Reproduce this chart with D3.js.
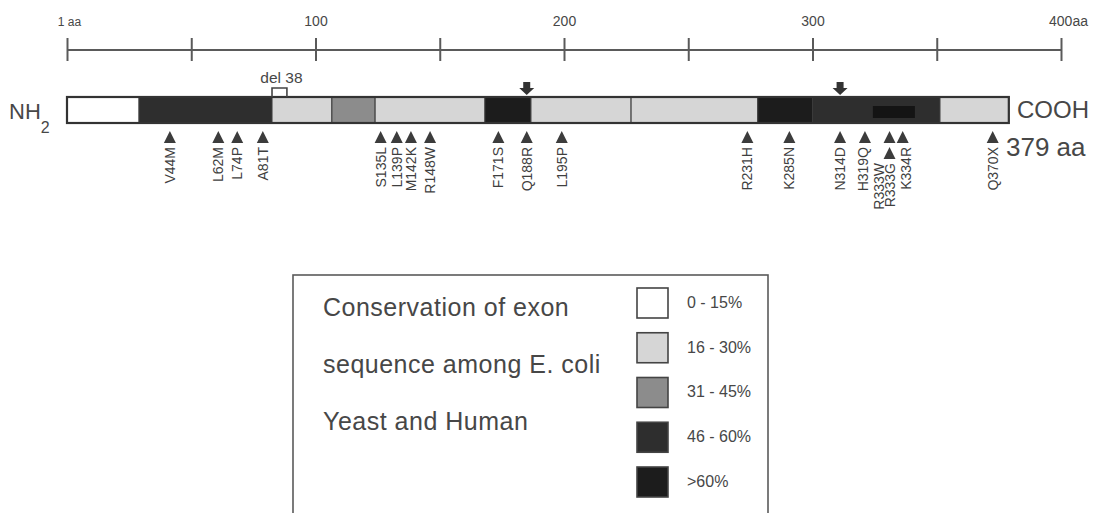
<!DOCTYPE html>
<html>
<head>
<meta charset="utf-8">
<script src="https://cdn.jsdelivr.net/npm/d3@7"></script>
<style>
  html, body { margin: 0; padding: 0; background: #fff; }
  svg { display: block; font-family: "Liberation Sans", Arial, Helvetica, sans-serif; }
</style>
</head>
<body>
<svg id="chart" width="1097" height="513"></svg>
<script>
// ---------------- data ----------------
const tickValues = [0, 50, 100, 150, 200, 250, 300, 350, 400];
const tickLabels = ["1 aa", "", "100", "", "200", "", "300", "", "400aa"];

// conservation segments along the protein (aa positions as drawn)
const segStart = [0, 29, 82.5, 106.6, 124, 168.2, 186.7, 227, 278, 300, 351.3];
const segEnd   = [29, 82.5, 106.6, 124, 168.2, 186.7, 227, 278, 300, 351.3, 379];
const segLevel = ["0 - 15%", "46 - 60%", "16 - 30%", "31 - 45%", "16 - 30%", ">60%",
                  "16 - 30%", "16 - 30%", ">60%", "46 - 60%", "16 - 30%"];
// inner highly conserved block inside the C-terminal region
const innerStart = [324.3];
const innerEnd   = [341.2];
const innerLevel = [">60%"];

const levels = ["0 - 15%", "16 - 30%", "31 - 45%", "46 - 60%", ">60%"];
const levelColors = ["#ffffff", "#d6d6d6", "#8c8c8c", "#2e2e2e", "#1c1c1c"];

// mutations: triangle position (aa as drawn), label position, rows
const mutNames = ["V44M", "L62M", "L74P", "A81T", "S135L", "L139P", "M142K", "R148W",
                  "F171S", "Q188R", "L195P", "R231H", "K285N", "N314D", "H319Q",
                  "R333W", "R333G", "K334R", "Q370X"];
const mutPos = [41.4, 60.9, 68.5, 78.8, 126.2, 132.7, 138.4, 146.1,
                173.6, 185.0, 199.1, 273.8, 290.7, 311.1, 321.1,
                331.0, 331.0, 336.3, 372.5];
const mutLabelPos = [41.4, 60.9, 68.5, 78.8, 126.2, 132.7, 138.4, 146.1,
                     173.6, 185.0, 199.1, 273.8, 290.7, 311.1, 320.5,
                     326.8, 331.0, 337.8, 372.5];
const mutRow      = [0,0,0,0,0,0,0,0,0,0,0,0,0,0,0,0,1,0,0];
const mutLabelRow = [0,0,0,0,0,0,0,0,0,0,0,0,0,0,0,1,1,0,0];

// arrows mark these mutations
const arrowMuts = ["Q188R", "N314D"];

// deleted region bracket
const delLabel = "del 38";
const delRange = [82.5, 88.5];

const legendTitle = ["Conservation of exon", "sequence among E. coli", "Yeast and Human"];

// ---------------- drawing ----------------
const svg = d3.select("#chart");
const textCol = "#474747";
const lineCol = "#5a5a5a";

const x = d3.scaleLinear().domain([0, 400]).range([67, 1061]);
const color = d3.scaleOrdinal().domain(levels).range(levelColors);

// top axis
const axisY = 50;
const axisG = svg.append("g").attr("transform", `translate(0,${axisY})`)
  .call(d3.axisTop(x).tickValues(tickValues).tickSize(12)
        .tickFormat((d, i) => tickLabels[i]));
axisG.select(".domain").remove();
axisG.append("line").attr("x1", x(0)).attr("x2", x(400))
  .attr("stroke", lineCol).attr("stroke-width", 2);
axisG.selectAll(".tick line").attr("y1", -12).attr("y2", 11)
  .attr("stroke", lineCol).attr("stroke-width", 2);
axisG.selectAll(".tick text")
  .attr("y", -24).attr("dy", 0)
  .attr("fill", textCol)
  .attr("font-family", "Liberation Sans, Arial, sans-serif")
  .attr("font-size", (d, i) => i === 0 ? 12 : 14)
  .attr("dx", (d, i) => i === tickValues.length - 1 ? 7 : (i === 0 ? 2 : 0));

// protein bar
const barTop = 97, barH = 26;
const segs = segStart.map((s, i) => ({ s, e: segEnd[i], lvl: segLevel[i] }));
svg.append("g").selectAll("rect").data(segs).join("rect")
  .attr("x", d => x(d.s)).attr("y", barTop)
  .attr("width", d => x(d.e) - x(d.s)).attr("height", barH)
  .attr("fill", d => color(d.lvl))
  .attr("stroke", "#3a3a3a").attr("stroke-width", 1);

const inner = innerStart.map((s, i) => ({ s, e: innerEnd[i], lvl: innerLevel[i] }));
svg.append("g").selectAll("rect").data(inner).join("rect")
  .attr("x", d => x(d.s)).attr("y", barTop + 9)
  .attr("width", d => x(d.e) - x(d.s)).attr("height", 12)
  .attr("fill", "#141414");

// outline of the whole bar
svg.append("rect")
  .attr("x", x(segStart[0])).attr("y", barTop)
  .attr("width", x(segEnd[segEnd.length - 1]) - x(segStart[0])).attr("height", barH)
  .attr("fill", "none").attr("stroke", "#333").attr("stroke-width", 2.2);

// NH2 / COOH / 379 aa
const nh = svg.append("text").attr("x", 9).attr("y", 119)
  .attr("font-size", 22).attr("fill", textCol).text("NH");
nh.append("tspan").attr("font-size", 16).attr("dy", 14).text("2");
svg.append("text").attr("x", 1017).attr("y", 118)
  .attr("font-size", 24).attr("fill", textCol).text("COOH");
svg.append("text").attr("x", 1006).attr("y", 156)
  .attr("font-size", 26).attr("fill", textCol).text("379 aa");

// del bracket
const dx0 = x(delRange[0]), dx1 = x(delRange[1]);
svg.append("path")
  .attr("d", `M${dx0},97 V88 H${dx1} V97`)
  .attr("fill", "none").attr("stroke", "#444").attr("stroke-width", 1.6);
svg.append("text").attr("x", (dx0 + dx1) / 2 + 2).attr("y", 83)
  .attr("text-anchor", "middle").attr("font-size", 15.5).attr("fill", textCol)
  .text(delLabel);

// arrows
const arrowData = arrowMuts.map(n => mutPos[mutNames.indexOf(n)]);
svg.append("g").selectAll("path").data(arrowData).join("path")
  .attr("transform", d => `translate(${x(d)},0)`)
  .attr("d", "M-3.5,82 H3.5 V88 H7.5 L0,95 L-7.5,88 H-3.5 Z")
  .attr("fill", "#333");

// mutations
const muts = mutNames.map((n, i) => ({ n, p: mutPos[i], lp: mutLabelPos[i], r: mutRow[i], lr: mutLabelRow[i] }));
const mg = svg.append("g");
mg.selectAll("path").data(muts).join("path")
  .attr("transform", d => `translate(${x(d.p)},${131 + d.r * 16})`)
  .attr("d", "M0,0 L6,12 L-6,12 Z")
  .attr("fill", "#3c3c3c");
mg.selectAll("text").data(muts).join("text")
  .attr("transform", d => `translate(${x(d.lp) + 5},${147 + d.lr * 16}) rotate(-90)`)
  .attr("text-anchor", "end")
  .attr("font-size", 14).attr("fill", "#3f3f3f")
  .text(d => d.n);

// legend
const lg = svg.append("g");
lg.append("rect").attr("x", 293).attr("y", 275).attr("width", 475).attr("height", 270)
  .attr("fill", "none").attr("stroke", lineCol).attr("stroke-width", 1.6);
lg.selectAll("text.title").data(legendTitle).join("text").attr("class", "title")
  .attr("x", 323).attr("y", (d, i) => 316 + i * 57)
  .attr("font-size", 25).attr("letter-spacing", 0.5).attr("fill", textCol)
  .text(d => d);
const sw = lg.selectAll("g.sw").data(levels).join("g").attr("class", "sw")
  .attr("transform", (d, i) => `translate(637,${288 + i * 44.75})`);
sw.append("rect").attr("width", 31).attr("height", 30)
  .attr("fill", d => color(d)).attr("stroke", "#444").attr("stroke-width", 1.6);
sw.append("text").attr("x", 50).attr("y", 15).attr("dy", "0.3em")
  .attr("font-size", 16).attr("fill", textCol).text(d => d);
</script>
</body>
</html>
